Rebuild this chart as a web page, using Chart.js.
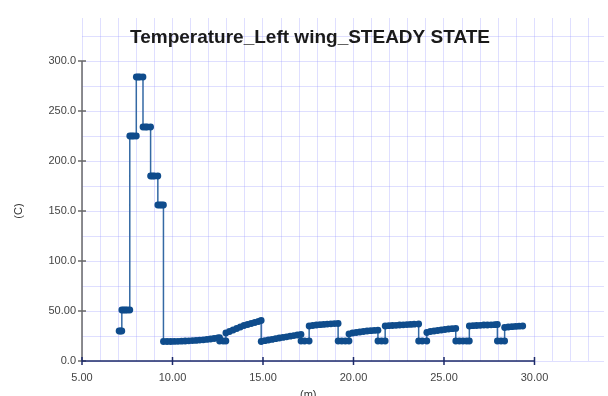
<!DOCTYPE html>
<html>
<head>
<meta charset="utf-8">
<script src="https://cdn.jsdelivr.net/npm/chart.js@4/dist/chart.umd.min.js"></script>
<style>
  html, body { margin: 0; padding: 0; background: #fff; }
  canvas { display: block; }
</style>
</head>
<body>
<canvas id="chart" width="608" height="396"></canvas>
<script>
const chartTitle = 'Temperature_Left wing_STEADY STATE';
const xTitle = '(m)';
const yTitle = '(C)';

const xTickVals = [5, 10, 15, 20, 25, 30];
const xTickLabels = ['5.00', '10.00', '15.00', '20.00', '25.00', '30.00'];
const yTickVals = [0, 50, 100, 150, 200, 250, 300];
const yTickLabels = ['0.0', '50.00', '100.0', '150.0', '200.0', '250.0', '300.0'];

// position along the wing (m)
const xs = [
  7.05, 7.12, 7.2, 7.2, 7.3, 7.4, 7.5, 7.64, 7.64, 7.75, 7.85, 8.0,
  8.0, 8.1, 8.2, 8.37, 8.37, 8.5, 8.6, 8.79, 8.79, 8.9, 9.0, 9.19,
  9.19, 9.3, 9.4, 9.5, 9.5, 9.7, 9.9, 10.1, 10.3, 10.5, 10.7, 10.9,
  11.1, 11.3, 11.5, 11.7, 11.9, 12.1, 12.3, 12.5, 12.6, 12.6, 12.8, 12.95,
  12.95, 13.15, 13.35, 13.55, 13.75, 13.95, 14.15, 14.35, 14.55, 14.75, 14.9,
  14.9, 15.1, 15.3, 15.5, 15.7, 15.9, 16.1, 16.3, 16.5, 16.7, 16.9, 17.1,
  17.1, 17.3, 17.55, 17.55, 17.75, 17.95, 18.15, 18.35, 18.55, 18.75, 18.95, 19.15,
  19.15, 19.35, 19.55, 19.75, 19.75, 19.95, 20.15, 20.35, 20.55, 20.75, 20.95, 21.15, 21.35,
  21.35, 21.55, 21.75, 21.75, 21.95, 22.15, 22.35, 22.55, 22.75, 22.95, 23.15, 23.35, 23.6,
  23.6, 23.8, 24.05, 24.05, 24.25, 24.45, 24.65, 24.85, 25.05, 25.25, 25.45, 25.65,
  25.65, 25.85, 26.05, 26.25, 26.4, 26.4, 26.6, 26.8, 27.0, 27.2, 27.4, 27.6, 27.8, 27.95,
  27.95, 28.15, 28.35, 28.35, 28.55, 28.75, 28.95, 29.15, 29.35
];
// temperature (C)
const ys = [
  30, 30, 30, 51, 51, 51, 51, 51, 225, 225, 225, 225,
  284, 284, 284, 284, 234, 234, 234, 234, 185, 185, 185, 185,
  156, 156, 156, 156, 19.5, 19.5, 19.5, 19.6, 19.7, 19.8, 20, 20.2,
  20.4, 20.6, 20.9, 21.2, 21.6, 22, 22.5, 23.2, 23.4, 20, 20, 20,
  28, 29.5, 31, 32.5, 34, 35.5, 36.5, 37.5, 38.5, 39.5, 40.5,
  19.5, 20.3, 21, 21.6, 22.3, 23, 23.6, 24.2, 24.8, 25.4, 26, 26.5,
  20, 20, 20, 35, 35.5, 36, 36.3, 36.6, 36.9, 37.2, 37.4, 37.5,
  20, 20, 20, 20, 27, 28, 28.5, 29, 29.5, 30, 30.3, 30.6, 30.8,
  20, 20, 20, 35, 35.3, 35.5, 35.7, 36, 36.2, 36.4, 36.6, 36.8, 37,
  20, 20, 20, 28.5, 29.5, 30, 30.5, 31, 31.5, 32, 32.3, 32.6,
  20, 20, 20, 20, 20, 35, 35.3, 35.5, 35.7, 36, 36, 36.2, 36.3, 36.5,
  20, 20, 20, 33.5, 34, 34.3, 34.6, 34.8, 35
];

const FONT = "'Liberation Sans', Arial, sans-serif";
const gridColor = 'rgba(150,150,255,0.3)';

// axes with crossing tick marks, titles
const decor = {
  id: 'decor',
  beforeDatasetsDraw(chart) {
    const { ctx } = chart;
    const x = chart.scales.x, y = chart.scales.y;
    const x0 = x.getPixelForValue(5), x1 = x.getPixelForValue(30);
    const y0 = y.getPixelForValue(0), y1 = y.getPixelForValue(300);
    ctx.save();
    ctx.lineWidth = 1.5;
    ctx.strokeStyle = '#6a6a6a';
    ctx.beginPath();
    ctx.moveTo(x0, y0); ctx.lineTo(x0, y1);
    yTickVals.forEach(v => {
      const p = y.getPixelForValue(v);
      ctx.moveTo(x0 - 4, p); ctx.lineTo(x0 + 4, p);
    });
    ctx.stroke();
    ctx.strokeStyle = '#1c2a6a';
    ctx.beginPath();
    ctx.moveTo(x0, y0); ctx.lineTo(x1, y0);
    xTickVals.forEach(v => {
      const p = x.getPixelForValue(v);
      ctx.moveTo(p, y0 - 4); ctx.lineTo(p, y0 + 4);
    });
    ctx.stroke();
    ctx.restore();
  },
  afterDraw(chart) {
    const { ctx } = chart;
    const x = chart.scales.x, y = chart.scales.y;
    ctx.save();
    ctx.fillStyle = '#1a1a1a';
    ctx.font = 'bold 19px ' + FONT;
    ctx.textAlign = 'center';
    ctx.textBaseline = 'middle';
    ctx.fillText(chartTitle, 310, 38);
    ctx.fillStyle = '#333';
    ctx.font = '11px ' + FONT;
    ctx.fillText(xTitle, (x.getPixelForValue(5) + x.getPixelForValue(30)) / 2, 395);
    ctx.translate(19, (y.getPixelForValue(0) + y.getPixelForValue(300)) / 2);
    ctx.rotate(-Math.PI / 2);
    ctx.fillText(yTitle, 0, 0);
    ctx.restore();
  }
};

new Chart(document.getElementById('chart'), {
  type: 'line',
  data: {
    datasets: [{
      data: xs.map((v, i) => ({ x: v, y: ys[i] })),
      borderColor: '#3469a4',
      borderWidth: 1.5,
      pointRadius: 3.4,
      pointBackgroundColor: '#0f4c8c',
      pointBorderWidth: 0,
      tension: 0,
    }],
  },
  options: {
    responsive: false,
    animation: false,
    layout: { padding: { top: 18, left: 0, right: 0, bottom: 0 } },
    plugins: {
      legend: { display: false },
      title: { display: false },
      tooltip: { enabled: false },
    },
    scales: {
      x: {
        type: 'linear',
        min: 5,
        max: 33.84,
        afterBuildTicks: s => {
          const t = [];
          for (let v = 5; v <= 33; v++) t.push({ value: v });
          s.ticks = t;
        },
        afterFit: s => { s.height = 35; },
        ticks: {
          autoSkip: false,
          maxRotation: 0,
          padding: 10,
          color: '#444',
          font: { family: FONT, size: 11 },
          callback: v => {
            const i = xTickVals.indexOf(v);
            return i >= 0 ? xTickLabels[i] : '';
          },
        },
        grid: { color: gridColor, drawTicks: false },
        border: { display: false },
      },
      y: {
        min: 0,
        max: 343,
        afterBuildTicks: s => {
          const t = [];
          for (let v = 0; v <= 325; v += 25) t.push({ value: v });
          s.ticks = t;
        },
        afterFit: s => { s.width = 82; },
        ticks: {
          autoSkip: false,
          padding: 6,
          color: '#444',
          font: { family: FONT, size: 11 },
          callback: v => {
            const i = yTickVals.indexOf(v);
            return i >= 0 ? yTickLabels[i] : '';
          },
        },
        grid: { color: gridColor, drawTicks: false },
        border: { display: false },
      },
    },
  },
  plugins: [decor],
});
</script>
</body>
</html>
